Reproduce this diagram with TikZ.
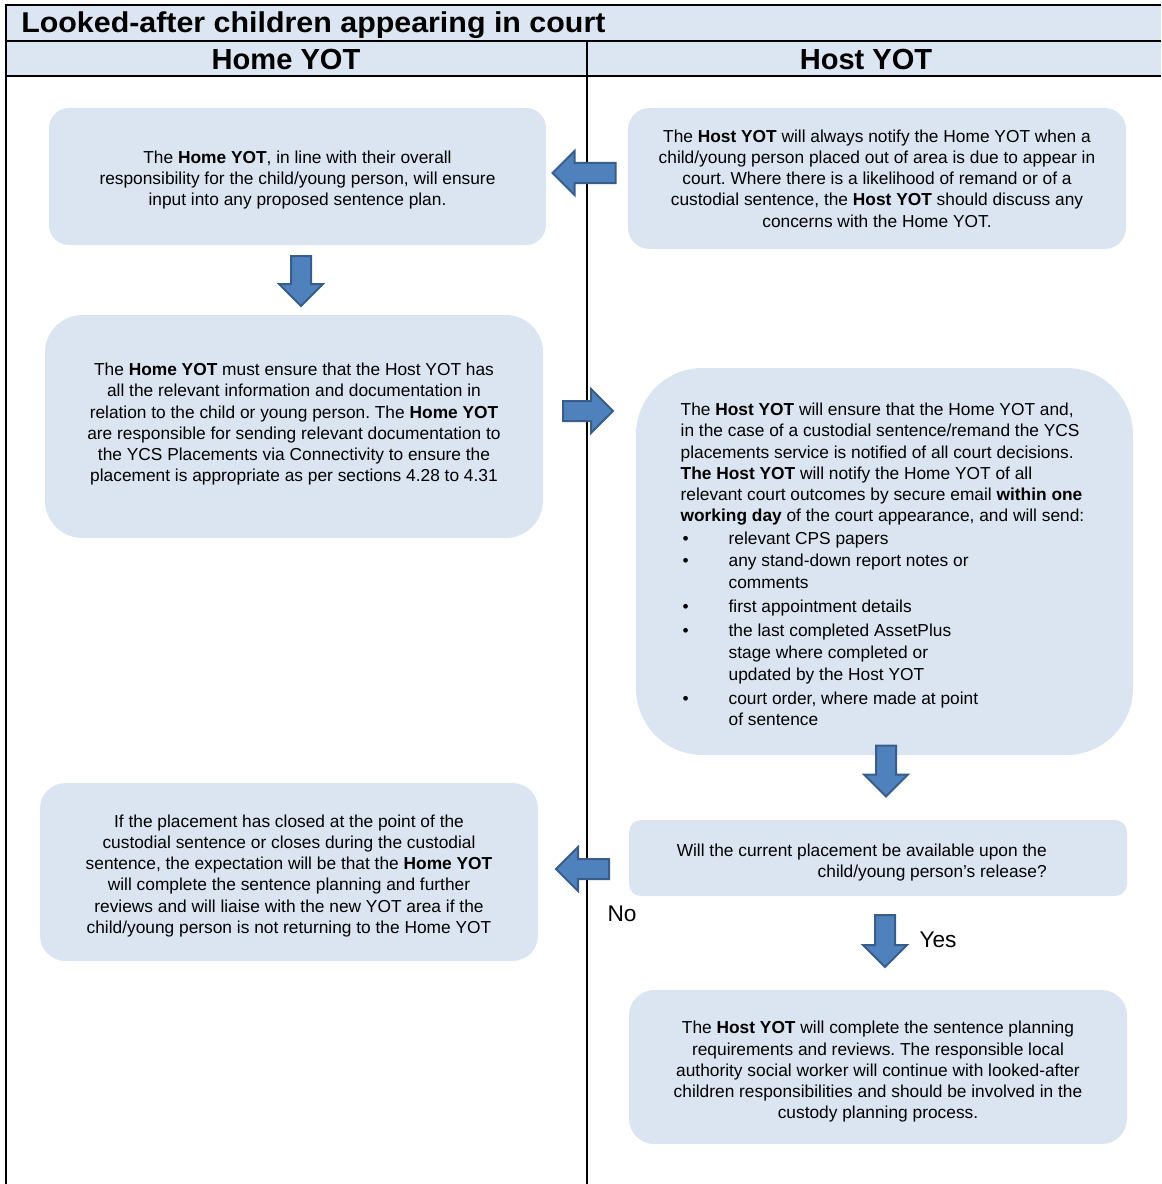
\documentclass[tikz,border=0pt]{standalone}
\usepackage{fontspec}
\setmainfont{Liberation Sans}
\usetikzlibrary{shapes.arrows}
\frenchspacing
\definecolor{paleblue}{HTML}{DCE6F2}
\definecolor{boxblue}{HTML}{DBE5F1}
\definecolor{arrowfill}{HTML}{4F81BD}
\definecolor{arrowline}{HTML}{385D8A}
\newcommand{\bodyfont}{\fontsize{13pt}{15.9pt}\selectfont}
\newcommand{\itemline}[1]{\makebox[36pt][l]{\hspace{1.5pt}\textbullet}#1}
\newcommand{\contline}[1]{\makebox[36pt][l]{}#1}
% move a block of text up or down without changing its reported size
\newcommand{\textshift}[2]{\raisebox{#1}[\height][\depth]{#2}}
\begin{document}
\begin{tikzpicture}[x=0.75pt,y=-0.75pt,
  frame/.style={line width=1.5pt,black},
  flowbox/.style 2 args={draw=none,fill=boxblue,minimum width=#1*0.75pt,
    minimum height=#2*0.75pt,inner sep=0pt,align=center,font=\bodyfont},
  blockarrow/.style={single arrow,draw=arrowline,fill=arrowfill,line width=1.5pt,
    inner sep=6.75pt,single arrow head extend=9pt,minimum height=#1*0.75pt},
  decision/.style={font=\fontsize{17pt}{20pt}\selectfont}
]
\useasboundingbox (0,0) rectangle (1161,1184);

% table frame with title and column headings
\fill[paleblue] (6,5) rectangle (1161,76);
\draw[frame] (1161,5) -- (6,5) -- (6,1184);
\draw[frame] (6,41) -- (1161,41);
\draw[frame] (6,76) -- (1161,76);
\draw[frame] (587,41) -- (587,1184);
\node[anchor=base west,inner sep=0pt,font=\fontsize{21.5pt}{24pt}\selectfont\bfseries] (title) at (21,33)
  {\scalebox{1.06}[1]{Looked-after children appearing in court}};
\node[font=\fontsize{21.8pt}{24pt}\selectfont\bfseries] (homehead) at (286,59) {Home YOT};
\node[font=\fontsize{21.8pt}{24pt}\selectfont\bfseries] (hosthead) at (866,59) {Host YOT};

% Home YOT column
\node[flowbox={497}{137},rounded corners=15pt] (homeinput) at (297.5,176.5)
  {\textshift{-2.6pt}{\begin{tabular}{@{}c@{}}The \textbf{Home YOT}, in line with their overall\\
   responsibility for the child/young person, will ensure\\
   input into any proposed sentence plan.\end{tabular}}};
\node[flowbox={498}{223},rounded corners=28pt] (homeinfo) at (294,426.5)
  {\textshift{1.5pt}{\begin{tabular}{@{}c@{}}The \textbf{Home YOT} must ensure that the Host YOT has\\
   all the relevant information and documentation in\\
   relation to the child or young person. The \textbf{Home YOT}\\
   are responsible for sending relevant documentation to\\
   the YCS Placements via Connectivity to ensure the\\
   placement is appropriate as per sections 4.28 to 4.31\end{tabular}}};
\node[flowbox={498}{178},rounded corners=19pt] (homeplan) at (289,872)
  {\textshift{-3pt}{\begin{tabular}{@{}c@{}}If the placement has closed at the point of the\\
   custodial sentence or closes during the custodial\\
   sentence, the expectation will be that the \textbf{Home YOT}\\
   will complete the sentence planning and further\\
   reviews and will liaise with the new YOT area if the\\
   child/young person is not returning to the Home YOT\end{tabular}}};

% Host YOT column
\node[flowbox={498}{141},rounded corners=16pt] (hostnotify) at (877,178.5)
  {The \textbf{Host YOT} will always notify the Home YOT when a\\
   child/young person placed out of area is due to appear in\\
   court. Where there is a likelihood of remand or of a\\
   custodial sentence, the \textbf{Host YOT} should discuss any\\
   concerns with the Home YOT.};
\node[flowbox={497}{387},rounded corners=50pt,align=left] (hostensure) at (884.5,561.5)
  {\hspace*{-3pt}\textshift{-3.75pt}{\begin{tabular}{@{}l@{}}The \textbf{Host YOT} will ensure that the Home YOT and,\\
   in the case of a custodial sentence/remand the YCS\\
   placements service is notified of all court decisions.\\
   \textbf{The Host YOT} will notify the Home YOT of all\\
   relevant court outcomes by secure email \textbf{within one}\\
   \textbf{working day} of the court appearance, and will send:\\[1.4pt]
   \itemline{relevant CPS papers}\\[0.6pt]
   \itemline{any stand-down report notes or}\\[0.6pt]
   \contline{comments}\\[2.1pt]
   \itemline{first appointment details}\\[2.1pt]
   \itemline{the last completed AssetPlus}\\[0.4pt]
   \contline{stage where completed or}\\[0.4pt]
   \contline{updated by the Host YOT}\\[2.0pt]
   \itemline{court order, where made at point}\\[0.4pt]
   \contline{of sentence}\end{tabular}}};
\node[flowbox={498}{76},rounded corners=9pt] (hostquestion) at (878,858) {};
\node[anchor=east,align=right,inner sep=0pt,font=\bodyfont] (questiontext) at (1047,862.5)
  {Will the current placement be available upon the\\
   child/young person’s release?};
\node[flowbox={498}{154},rounded corners=19pt] (hostcomplete) at (878,1067)
  {\textshift{-3.75pt}{\begin{tabular}{@{}c@{}}The \textbf{Host YOT} will complete the sentence planning\\
   requirements and reviews. The responsible local\\
   authority social worker will continue with looked-after\\
   children responsibilities and should be involved in the\\
   custody planning process.\end{tabular}}};

% block arrows between the steps
\node[blockarrow=63,rotate=180] (notifytoinput) at (589,173) {};
\node[blockarrow=50,rotate=-90] (inputtoinfo) at (301,276) {};
\node[blockarrow=50] (infotoensure) at (583,411) {};
\node[blockarrow=51,rotate=-90] (ensuretoquestion) at (886,766) {};
\node[blockarrow=53,rotate=180] (questiontoplan) at (587.5,869) {};
\node[blockarrow=52,rotate=-90] (questiontocomplete) at (885,936) {};

% answers
\node[decision] (no) at (622,914) {No};
\node[decision] (yes) at (938,940) {Yes};
\end{tikzpicture}
\end{document}
